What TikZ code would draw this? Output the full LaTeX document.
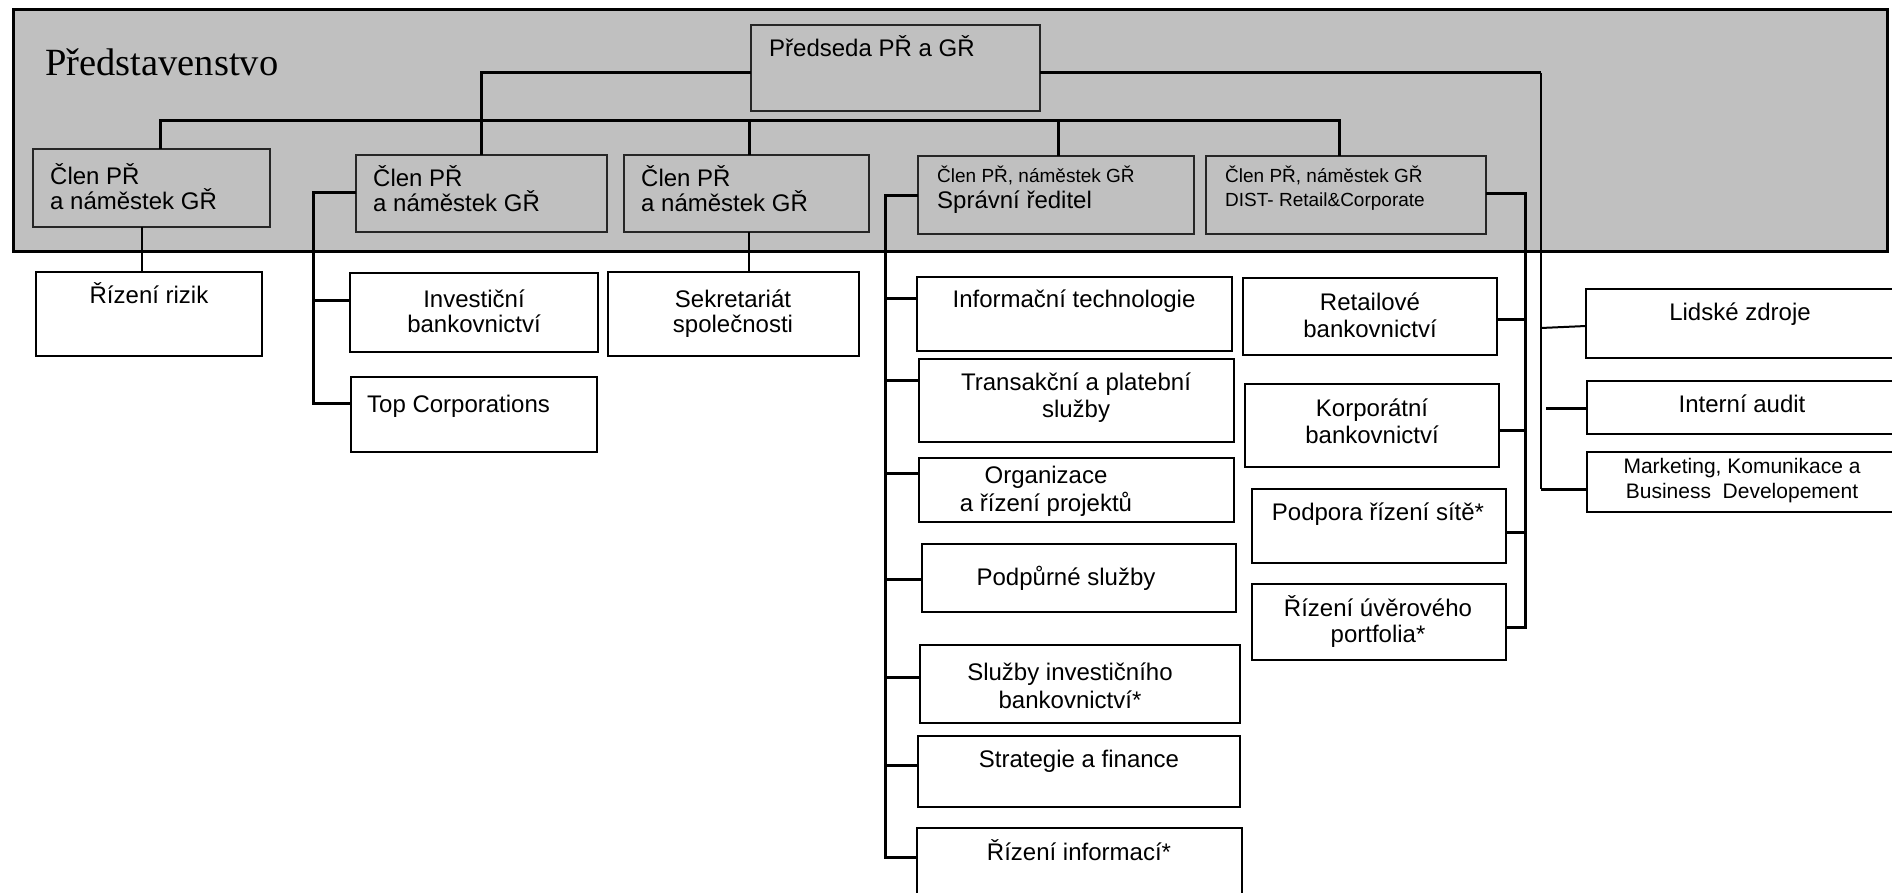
\documentclass[tikz,border=0pt]{standalone}
\usepackage{fontspec}
\setmainfont{Liberation Serif}
\newfontfamily\arialf{Liberation Sans}
\definecolor{boardgray}{HTML}{C0C0C0}
\begin{document}
\begin{tikzpicture}[x=1pt,y=-1pt,
  conn/.style={line width=3pt},
  thinconn/.style={line width=2pt},
  wbox/.style={draw, line width=2.2pt, fill=white, inner sep=0pt, outer sep=0pt, anchor=north west},
  gbox/.style={draw=black!85, line width=2pt, fill=boardgray, inner sep=0pt, outer sep=0pt, anchor=north west},
  tx/.style={font=\arialf\fontsize{24}{28}\selectfont, inner sep=0pt, anchor=base},
  txl/.style={tx, anchor=base west},
  sm/.style={font=\arialf\fontsize{19}{22}\selectfont, inner sep=0pt, anchor=base west},
  mkt/.style={font=\arialf\fontsize{21}{25}\selectfont, inner sep=0pt, anchor=base}]
\useasboundingbox (0,0) rectangle (1892,893);
\clip (0,0) rectangle (1892,893);
% board
\node[draw, line width=3pt, fill=boardgray, inner sep=0pt, anchor=north west, minimum width=1874pt, minimum height=242pt] (board) at (12,8) {};
\node[font=\fontsize{38.5}{46}\selectfont, inner sep=0pt, anchor=base west] (boardt) at (45,76) {Představenstvo};
% top boxes
\node[gbox, minimum width=289pt, minimum height=86pt] (pr) at (751,25) {};
\node[txl] (prt) at (769,57) {Předseda PŘ a GŘ};
\node[gbox, minimum width=237pt, minimum height=78pt] (b1) at (33,149) {};
\node[txl] (b1a) at (50,185) {Člen PŘ};
\node[txl] (b1b) at (50,210) {a náměstek GŘ};
\node[gbox, minimum width=251pt, minimum height=77pt] (b2) at (356,155) {};
\node[txl] (b2a) at (373,187) {Člen PŘ};
\node[txl] (b2b) at (373,212) {a náměstek GŘ};
\node[gbox, minimum width=245pt, minimum height=77pt] (b3) at (624,155) {};
\node[txl] (b3a) at (641,187) {Člen PŘ};
\node[txl] (b3b) at (641,212) {a náměstek GŘ};
\node[gbox, minimum width=276pt, minimum height=78pt] (b4) at (918,156) {};
\node[sm] (b4a) at (937,183) {Člen PŘ, náměstek GŘ};
\node[txl] (b4b) at (937,209) {Správní ředitel};
\node[gbox, minimum width=280pt, minimum height=78pt] (b5) at (1206,156) {};
\node[sm] (b5a) at (1225,183) {Člen PŘ, náměstek GŘ};
\node[sm] (b5b) at (1225,207) {DIST- Retail\&Corporate};
% lower boxes
\node[wbox, minimum width=226pt, minimum height=84pt] (rr) at (36,272) {};
\node[tx] (rrt) at (149,303) {Řízení rizik};
\node[wbox, minimum width=248pt, minimum height=79pt] (inv) at (350,273) {};
\node[tx] (inva) at (474,307) {Investiční};
\node[tx] (invb) at (474,332) {bankovnictví};
\node[wbox, minimum width=246pt, minimum height=75pt] (top) at (351,377) {};
\node[txl] (topt) at (367,412) {Top Corporations};
\node[wbox, minimum width=251pt, minimum height=84pt] (sek) at (608,272) {};
\node[tx] (seka) at (733,307) {Sekretariát};
\node[tx] (sekb) at (733,332) {společnosti};
\node[wbox, minimum width=315pt, minimum height=74pt] (it) at (917,277) {};
\node[tx] (itt) at (1074,308) {Informační technologie};
\node[wbox, minimum width=315pt, minimum height=83pt] (trs) at (919,359) {};
\node[tx] (trsa) at (1076,390) {Transakční a platební};
\node[tx] (trsb) at (1076,417) {služby};
\node[wbox, minimum width=315pt, minimum height=64pt] (org) at (919,458) {};
\node[tx] (orga) at (1046,483) {Organizace};
\node[tx] (orgb) at (1046,511) {a řízení projektů};
\node[wbox, minimum width=314pt, minimum height=68pt] (pod) at (922,544) {};
\node[tx] (podt) at (1066,585) {Podpůrné služby};
\node[wbox, minimum width=320pt, minimum height=78pt] (sib) at (920,645) {};
\node[tx] (siba) at (1070,680) {Služby investičního};
\node[tx] (sibb) at (1070,708) {bankovnictví*};
\node[wbox, minimum width=322pt, minimum height=71pt] (sf) at (918,736) {};
\node[tx] (sft) at (1079,767) {Strategie a finance};
\node[wbox, minimum width=325pt, minimum height=82pt] (ri) at (917,828) {};
\node[tx] (rit) at (1079,860) {Řízení informací*};
\node[wbox, minimum width=254pt, minimum height=77pt] (ret) at (1243,278) {};
\node[tx] (reta) at (1370,310) {Retailové};
\node[tx] (retb) at (1370,337) {bankovnictví};
\node[wbox, minimum width=254pt, minimum height=83pt] (kor) at (1245,384) {};
\node[tx] (kora) at (1372,416) {Korporátní};
\node[tx] (korb) at (1372,443) {bankovnictví};
\node[wbox, minimum width=254pt, minimum height=74pt] (pds) at (1252,489) {};
\node[tx] (pdst) at (1378,520) {Podpora řízení sítě*};
\node[wbox, minimum width=254pt, minimum height=76pt] (ruv) at (1252,584) {};
\node[tx] (ruva) at (1378,616) {Řízení úvěrového};
\node[tx] (ruvb) at (1378,642) {portfolia*};
\node[wbox, minimum width=314pt, minimum height=69pt] (lz) at (1586,289) {};
\node[tx] (lzt) at (1740,320) {Lidské zdroje};
\node[wbox, minimum width=313pt, minimum height=53pt] (ia) at (1587,381) {};
\node[tx] (iat) at (1742,412) {Interní audit};
\node[wbox, minimum width=313pt, minimum height=60pt] (mk) at (1587,452) {};
\node[mkt] (mka) at (1742,473) {Marketing, Komunikace a};
\node[mkt] (mkb) at (1742,498) {Business\ \ Developement};
% connectors
\coordinate (rtrunk) at (1541,489);
\draw[conn] (pr.west |- 0,73) -| (b2.north);
\draw[conn] (pr.east |- 0,73) -- (1541,73);
\draw[thinconn] (1541,73) -- (rtrunk);
\draw[conn] (rtrunk) -- (rtrunk -| mk.west);
\draw[thinconn] (1541,328) -- (lz.west |- 0,326);
\draw[conn] (1546,408) -- (ia.west |- 0,408);
\draw[conn] (160,0 |- b1.north) |- (1339,121) -- (1339,0 |- b5.north);
\draw[conn] (749,121) -- (749,0 |- b3.north);
\draw[conn] (1058,121) -- (1058,0 |- b4.north);
\draw[thinconn] (142,0 |- b1.south) -- (142,0 |- rr.north);
\draw[thinconn] (749,0 |- b3.south) -- (749,0 |- sek.north);
\draw[conn] (b2.west |- 0,193) -| (313,403) -- (top.west |- 0,403);
\draw[conn] (313,300) -- (inv.west |- 0,300);
\draw[conn] (b4.west |- 0,196) -| (885,857) -- (ri.west |- 0,857);
\draw[conn] (885,298) -- (it.west |- 0,298);
\draw[conn] (885,380) -- (trs.west |- 0,380);
\draw[conn] (885,473) -- (org.west |- 0,473);
\draw[conn] (885,579) -- (pod.west |- 0,579);
\draw[conn] (885,677) -- (sib.west |- 0,677);
\draw[conn] (885,765) -- (sf.west |- 0,765);
\draw[conn] (b5.east |- 0,194) -| (1525,627) -- (ruv.east |- 0,627);
\draw[conn] (1525,319) -- (ret.east |- 0,319);
\draw[conn] (1525,430) -- (kor.east |- 0,430);
\draw[conn] (1525,532) -- (pds.east |- 0,532);
\end{tikzpicture}
\end{document}
